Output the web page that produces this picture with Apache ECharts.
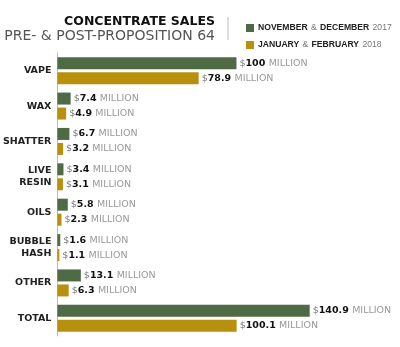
<!DOCTYPE html>
<html><head><meta charset="utf-8">
<script src="https://cdn.jsdelivr.net/npm/echarts@6/dist/echarts.min.js"></script>
<style>html,body{margin:0;padding:0;background:#fff}#c{width:400px;height:347px}</style>
</head><body><div id="c"></div>
<script>
var categories = ['VAPE', 'WAX', 'SHATTER', 'LIVE\nRESIN', 'OILS', 'BUBBLE\nHASH', 'OTHER', 'TOTAL'];
var seriesNames = ['NOVEMBER & DECEMBER 2017', 'JANUARY & FEBRUARY 2018'];
var novDec2017 = [100, 7.4, 6.7, 3.4, 5.8, 1.6, 13.1, 140.9];
var janFeb2018 = [78.9, 4.9, 3.2, 3.1, 2.3, 1.1, 6.3, 100.1];
var titleText = 'CONCENTRATE SALES';
var subtitleText = 'PRE- & POST-PROPOSITION 64';

var GREEN = '#4e6b45', GOLD = '#b8900e';
var FONT = 'DejaVu Sans';

var labelOpt = {
  show: true, position: 'right', distance: 3,
  formatter: function (p) { return '{d|$}{v|' + p.value + '} {m|MILLION}'; },
  rich: {
    d: { fontFamily: FONT, fontSize: 9.5, color: '#777' },
    v: { fontFamily: FONT, fontSize: 9.5, fontWeight: 'bold', color: '#111' },
    m: { fontFamily: FONT, fontSize: 9.5, color: '#999' }
  }
};

var chart = echarts.init(document.getElementById('c'), null, { renderer: 'canvas' });
chart.setOption({
  animation: false,
  backgroundColor: '#fff',
  grid: { left: 56, top: 53, width: 270, height: 283, containLabel: false },
  legend: {
    orient: 'vertical', left: 241, top: 17, itemWidth: 8, itemHeight: 8, itemGap: 5,
    icon: 'rect', selectedMode: false,
    data: seriesNames,
    formatter: function (n) {
      var m = n.match(/^(\S+) & (\S+) (\d+)$/);
      return '{b|' + m[1] + '} {l|&} {b|' + m[2] + '} {l|' + m[3] + '}';
    },
    textStyle: {
      padding: [0, 0, 0, -1],
      rich: {
        b: { fontFamily: 'Liberation Sans', fontSize: 8.6, fontWeight: 'bold', color: '#222' },
        l: { fontFamily: 'Liberation Sans', fontSize: 8.6, color: '#777' }
      }
    }
  },
  graphic: [
    { type: 'text', right: 185, top: 15, style: { text: titleText, font: 'bold 12.5px "DejaVu Sans"', fill: '#111', textAlign: 'right' } },
    { type: 'text', right: 185, top: 29, style: { text: subtitleText, font: '14px "DejaVu Sans"', fill: '#555', textAlign: 'right' } },
    { type: 'line', shape: { x1: 228, y1: 17, x2: 228, y2: 40 }, style: { stroke: '#bbb', lineWidth: 1 } }
  ],
  xAxis: {
    type: 'value', min: 0, max: 150, show: false
  },
  yAxis: {
    type: 'category', data: categories, inverse: true,
    axisLine: { show: true, lineStyle: { color: '#bbb', width: 1 } },
    axisTick: { show: false },
    axisLabel: { fontFamily: FONT, fontSize: 9.5, fontWeight: 'bold', color: '#222', margin: 6, lineHeight: 12, align: 'right' }
  },
  series: [
    { name: seriesNames[0], type: 'bar', data: novDec2017, barWidth: 12, barGap: '25%', itemStyle: { color: GREEN }, label: labelOpt },
    { name: seriesNames[1], type: 'bar', data: janFeb2018, barWidth: 12, barGap: '25%', itemStyle: { color: GOLD }, label: labelOpt }
  ]
});
</script></body></html>
